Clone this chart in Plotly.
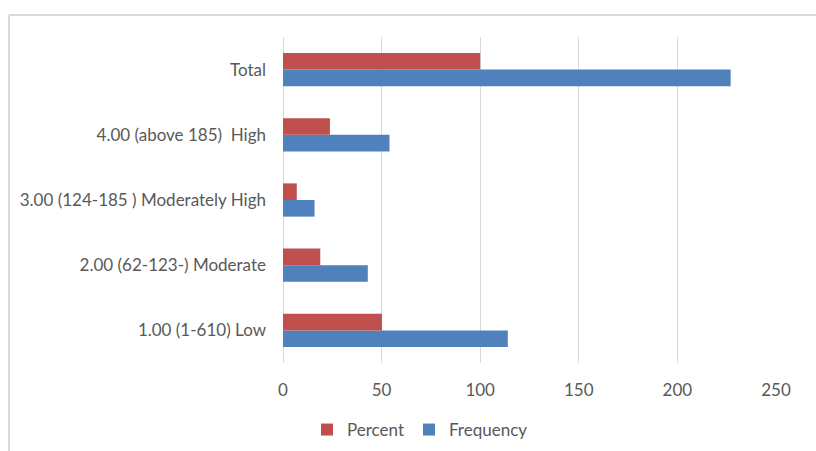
import plotly.graph_objects as go

# Category labels, bottom to top
categories = [
    "1.00 (1-610) Low",
    "2.00 (62-123-) Moderate",
    "3.00 (124-185 ) Moderately High",
    "4.00 (above 185)  High",
    "Total",
]
frequency = [114, 43, 16, 54, 227]
percent = [50.2, 18.9, 7.0, 23.8, 100.0]
x_ticks = [0, 50, 100, 150, 200, 250]

RED = "#C0504D"
BLUE = "#4F81BD"
TEXT = "#595959"
GRID = "#D9D9D9"
FONT = "Lato, Liberation Sans, Arial, sans-serif"

fig = go.Figure()
fig.add_trace(go.Bar(
    name="Frequency", y=categories, x=frequency, orientation="h",
    marker=dict(color=BLUE, line=dict(width=0)),
))
fig.add_trace(go.Bar(
    name="Percent", y=categories, x=percent, orientation="h",
    marker=dict(color=RED, line=dict(width=0)),
))

W, H = 816, 451
L, R, T, B = 283, 40, 37, 88
pw = W - L - R
ph = H - T - B

def px_x(px):
    return (px - L) / pw

def px_y(py):
    return (H - B - py) / ph

# Light frame around the chart area
frame = dict(type="line", xref="paper", yref="paper",
             line=dict(color="#D9D9D9", width=2), layer="below")
fig.add_shape(**frame, x0=px_x(9), x1=px_x(830), y0=px_y(15), y1=px_y(15))
fig.add_shape(**frame, x0=px_x(9), x1=px_x(9), y0=px_y(15), y1=px_y(470))

fig.update_layout(
    width=W, height=H,
    margin=dict(l=L, r=R, t=T, b=B, autoexpand=False),
    paper_bgcolor="white", plot_bgcolor="white",
    barmode="group", bargap=0.49, bargroupgap=0,
    font=dict(family=FONT, size=17, color=TEXT),
    showlegend=True,
    legend=dict(
        orientation="h", traceorder="reversed",
        x=px_x(420), xanchor="center", y=px_y(430), yanchor="middle",
        font=dict(family=FONT, size=17, color=TEXT),
        itemwidth=30, bgcolor="rgba(0,0,0,0)",
    ),
    xaxis=dict(
        range=[0, 250], tickvals=x_ticks, showgrid=True,
        gridcolor=GRID, gridwidth=1, zeroline=True, zerolinecolor=GRID,
        zerolinewidth=1, showline=False, ticks="",
        ticklabelstandoff=15, automargin=False,
        tickfont=dict(family=FONT, size=17, color=TEXT),
        fixedrange=True,
    ),
    yaxis=dict(
        type="category", categoryorder="array", categoryarray=categories,
        showgrid=False, zeroline=False, showline=False, ticks="",
        ticklabelstandoff=16, automargin=False,
        tickfont=dict(family=FONT, size=17, color=TEXT),
        fixedrange=True,
    ),
)

fig.write_html("out.html")
